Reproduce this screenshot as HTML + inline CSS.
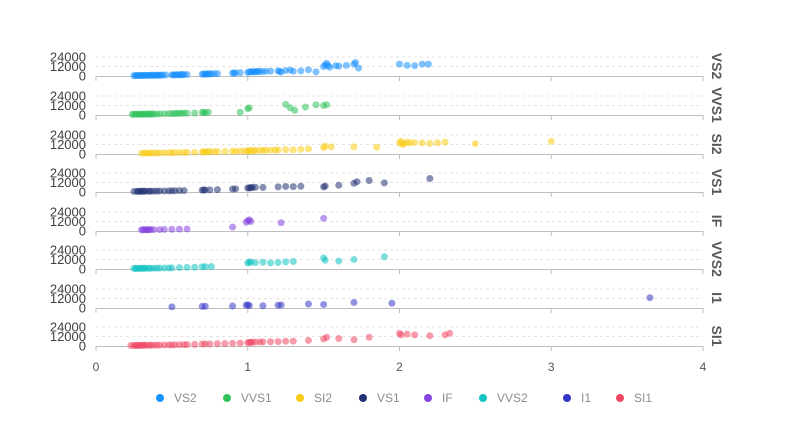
<!DOCTYPE html>
<html><head><meta charset="utf-8"><style>
html,body{margin:0;padding:0;background:#fff;}
svg{display:block;font-family:"Liberation Sans",sans-serif;}
</style></head><body>
<svg id="chart" width="800" height="428" viewBox="0 0 800 428"></svg>
<script>
const categories = ["VS2","VVS1","SI2","VS1","IF","VVS2","I1","SI1"];
const colors = ["#1890ff","#2fc25b","#facc14","#223273","#8543e0","#13c2c2","#3436c7","#f04864"];
const xTicks = [0,1,2,3,4];
const yTicks = [0,12000,24000];
const VS2 = [[0.25,500],[0.26,550],[0.27,600],[0.28,620],[0.29,650],[0.3,700],[0.31,720],[0.32,750],[0.33,800],[0.34,820],[0.35,850],[0.36,900],[0.37,920],[0.38,950],[0.39,980],[0.4,1000],[0.41,1020],[0.42,1050],[0.43,1080],[0.44,1100],[0.46,1200],[0.5,1400],[0.51,1450],[0.52,1500],[0.53,1550],[0.54,1600],[0.55,1650],[0.56,1700],[0.57,1750],[0.58,1800],[0.6,1900],[0.7,2300],[0.71,2400],[0.72,2500],[0.73,2550],[0.74,2600],[0.75,2700],[0.76,2800],[0.78,2900],[0.8,3000],[0.9,3700],[0.91,3800],[0.92,3900],[0.95,4200],[1.0,4500],[1.01,5000],[1.02,5500],[1.03,5300],[1.04,5200],[1.05,5600],[1.06,5800],[1.07,5400],[1.08,6000],[1.1,5600],[1.12,5900],[1.15,6200],[1.2,6500],[1.21,5800],[1.22,5000],[1.25,7000],[1.28,7500],[1.3,6000],[1.35,6500],[1.4,7800],[1.45,5200],[1.5,12000],[1.51,14000],[1.52,16000],[1.53,13000],[1.54,11000],[1.58,13000],[1.6,12500],[1.65,13500],[1.7,15000],[1.71,17000],[1.73,10000],[2.0,15000],[2.05,13500],[2.1,13000],[2.15,15000],[2.19,15000]];
const VVS1 = [[0.24,800],[0.25,850],[0.26,900],[0.27,950],[0.28,1000],[0.29,1000],[0.3,1000],[0.31,1050],[0.32,1100],[0.33,1120],[0.34,1150],[0.35,1180],[0.36,1200],[0.37,1250],[0.38,1300],[0.4,1300],[0.42,1400],[0.45,1600],[0.48,1700],[0.5,1800],[0.52,1900],[0.53,2000],[0.55,2100],[0.56,2200],[0.58,2300],[0.6,2400],[0.65,2500],[0.7,3500],[0.71,3200],[0.72,3000],[0.74,3600],[0.95,3500],[1.0,8000],[1.01,9000],[1.25,13500],[1.28,9000],[1.31,6000],[1.38,10000],[1.45,13000],[1.5,12000],[1.52,13000]];
const SI2 = [[0.3,1000],[0.32,1050],[0.33,1100],[0.35,1150],[0.36,1200],[0.38,1250],[0.4,1300],[0.42,1350],[0.45,1400],[0.48,1500],[0.5,1600],[0.52,1700],[0.55,1800],[0.58,1900],[0.6,2000],[0.65,2100],[0.7,2600],[0.71,2650],[0.72,2700],[0.74,2800],[0.75,2900],[0.78,2950],[0.8,3000],[0.85,3200],[0.9,3500],[0.92,3550],[0.95,3600],[0.98,3800],[1.0,4000],[1.01,4100],[1.02,4300],[1.04,4400],[1.05,4200],[1.08,4600],[1.1,4500],[1.12,4700],[1.15,4800],[1.18,4900],[1.2,5000],[1.25,5500],[1.3,5200],[1.35,5800],[1.4,6500],[1.5,8000],[1.51,10000],[1.55,9000],[1.7,9000],[1.85,8500],[2.0,14000],[2.01,16000],[2.02,12000],[2.03,13000],[2.05,15000],[2.07,14000],[2.1,14500],[2.15,14000],[2.2,13500],[2.25,14000],[2.3,15000],[2.5,13000],[3.0,16000]];
const VS1 = [[0.25,700],[0.27,750],[0.28,800],[0.29,850],[0.3,900],[0.31,950],[0.32,1000],[0.33,1000],[0.35,1000],[0.36,1050],[0.38,1100],[0.4,1100],[0.42,1200],[0.45,1300],[0.48,1400],[0.5,1500],[0.52,1600],[0.55,1700],[0.58,1800],[0.7,2400],[0.71,2500],[0.72,2600],[0.75,2700],[0.8,3000],[0.9,3600],[0.92,4000],[1.0,5000],[1.01,5200],[1.02,5500],[1.03,5700],[1.05,6000],[1.1,5800],[1.2,6500],[1.25,7000],[1.3,6800],[1.35,7200],[1.5,6500],[1.51,7500],[1.6,8500],[1.7,11000],[1.72,13000],[1.8,14500],[1.9,11500],[2.2,17000]];
const IF = [[0.3,1500],[0.31,1550],[0.32,1600],[0.33,1600],[0.34,1600],[0.35,1650],[0.36,1700],[0.38,1800],[0.42,1800],[0.45,2000],[0.5,2200],[0.55,2300],[0.6,2600],[0.9,5000],[0.99,11000],[1.0,13000],[1.01,14000],[1.02,12000],[1.22,10500],[1.5,16000]];
const VVS2 = [[0.25,700],[0.26,750],[0.27,780],[0.28,800],[0.29,820],[0.3,850],[0.31,870],[0.32,900],[0.33,920],[0.35,950],[0.36,980],[0.38,1000],[0.4,1050],[0.42,1100],[0.45,1200],[0.48,1300],[0.5,1400],[0.55,1800],[0.6,2000],[0.65,2200],[0.7,2800],[0.72,3000],[0.76,3100],[1.0,7500],[1.01,9000],[1.02,8500],[1.05,8000],[1.1,8500],[1.15,7800],[1.2,8200],[1.25,9000],[1.3,9500],[1.5,14000],[1.51,11000],[1.6,10000],[1.7,12000],[1.9,15500]];
const I1 = [[0.5,1500],[0.7,2000],[0.72,2200],[0.9,2500],[0.99,3500],[1.0,4000],[1.01,3000],[1.1,2800],[1.2,3500],[1.22,3800],[1.4,5000],[1.5,4500],[1.7,7000],[1.95,6000],[3.65,13000]];
const SI1 = [[0.23,600],[0.25,650],[0.26,700],[0.27,750],[0.28,800],[0.29,820],[0.3,850],[0.31,870],[0.32,900],[0.33,920],[0.35,950],[0.36,980],[0.38,1000],[0.4,1050],[0.42,1100],[0.45,1200],[0.48,1300],[0.5,1400],[0.52,1500],[0.55,1600],[0.58,1700],[0.6,1800],[0.65,2000],[0.7,2500],[0.72,2600],[0.75,2700],[0.8,2900],[0.85,3000],[0.9,3400],[0.95,3700],[1.0,4200],[1.01,4400],[1.02,4600],[1.03,4800],[1.05,5000],[1.08,5100],[1.1,5200],[1.15,5400],[1.2,5600],[1.25,6000],[1.3,6200],[1.4,7000],[1.5,9000],[1.52,11000],[1.6,9500],[1.7,8000],[1.8,11000],[2.0,16000],[2.01,14000],[2.05,15000],[2.1,14000],[2.2,13000],[2.3,14000],[2.33,16000]];
const seriesData = [VS2,VVS1,SI2,VS1,IF,VVS2,I1,SI1];

const svg = document.getElementById('chart');
const NS = 'http://www.w3.org/2000/svg';
const X0 = 96, X1 = 703, XMAX = 4;
const zeroYs = [76,115,154,192,231,269,308,346];
const pxPerPrice = 19/24000;
function xs(v){ return X0 + (X1-X0)*v/XMAX; }
function ys(i,v){ return zeroYs[i] - v*pxPerPrice; }
function mk(tag, attrs){ const e=document.createElementNS(NS,tag); for(const k in attrs) e.setAttribute(k,attrs[k]); svg.appendChild(e); return e; }

categories.forEach((cat,i)=>{
  yTicks.forEach(t=>{
    if(t>0){
      const g = mk('line',{x1:X0,x2:X1,y1:ys(i,t),y2:ys(i,t),stroke:'#e3e3e3','stroke-dasharray':'3,3'});
      
      
    }
    const tl = mk('text',{x:86,y:ys(i,t)+4.5,'text-anchor':'end','font-size':13,fill:'#404040'});
    tl.textContent = t;
    
    
  });
  const ax = mk('line',{x1:X0,x2:X1,y1:zeroYs[i]+0.5,y2:zeroYs[i]+0.5,stroke:'#bfbfbf'});
  
  
  xTicks.forEach(t=>{
    const tk = mk('line',{x1:xs(t),x2:xs(t),y1:zeroYs[i],y2:zeroYs[i]+5,stroke:'#bfbfbf'});
    
    
  });
  const fl = mk('text',{x:0,y:0,'font-size':14,'font-weight':'bold',fill:'#595959',transform:`translate(712,${zeroYs[i]-10}) rotate(90)`,'text-anchor':'middle'});
  fl.textContent = cat;
  
  
  seriesData[i].forEach(p=>{
    const c = mk('circle',{cx:xs(p[0]),cy:ys(i,p[1]),r:3.5,fill:colors[i],'fill-opacity':0.55});
    
    
  });
});
xTicks.forEach(t=>{
  const l = mk('text',{x:xs(t),y:371,'text-anchor':'middle','font-size':12,fill:'#555'});
  l.textContent = t;
  
  
});
const legendX = [160,227,300,363,428,483,567,620];
categories.forEach((cat,i)=>{
  const d = mk('circle',{cx:legendX[i],cy:398,r:4,fill:colors[i]});
  
  
  const t = mk('text',{x:legendX[i]+14,y:402,'font-size':12,fill:'#8c8c8c'});
  t.textContent = cat;
  
  
});
</script>
</body></html>
